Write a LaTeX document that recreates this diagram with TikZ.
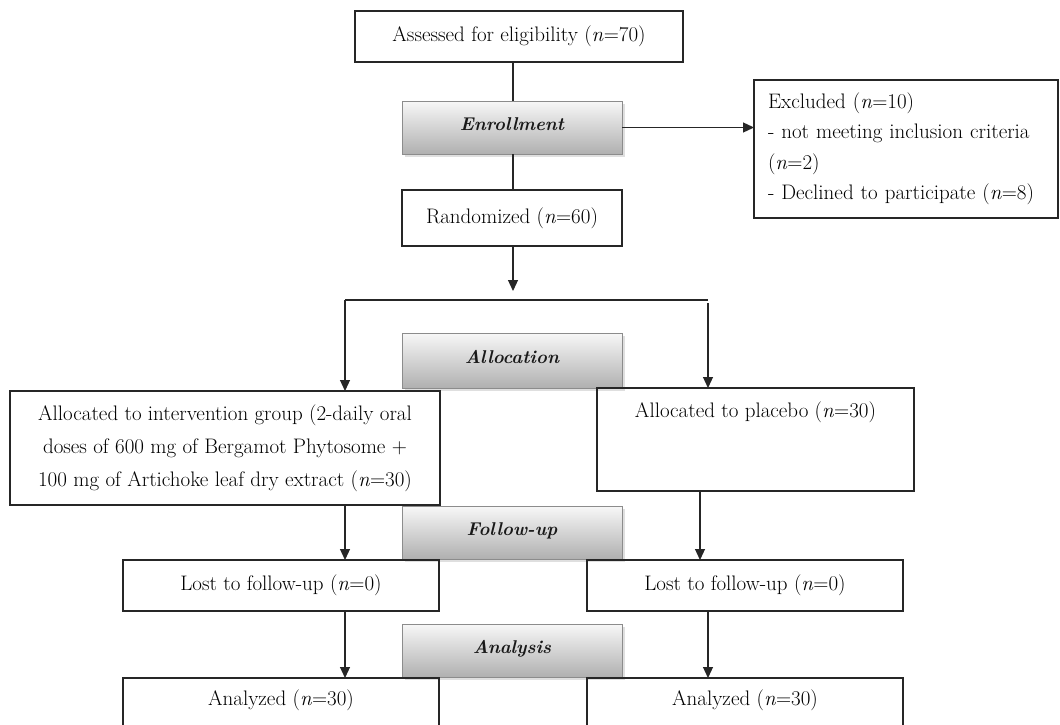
\documentclass[tikz,border=0pt]{standalone}
\usetikzlibrary{arrows.meta,shadows}
\begin{document}
\begin{tikzpicture}[x=1pt,y=-1pt,
  txt/.style={font=\fontsize{21}{30.5}\selectfont,text=black,inner sep=0pt,outer sep=0pt},
  box/.style={txt,draw=black!85,line width=1.1pt,rectangle,align=center},
  phase/.style={draw=gray!90,line width=1pt,rectangle,inner sep=0pt,outer sep=0pt,
    top color=gray!6,bottom color=gray!62,minimum width=220pt,text depth=7pt,
    font=\fontsize{18.5}{20}\selectfont\bfseries\itshape,text=black!90,
    drop shadow={shadow xshift=3pt,shadow yshift=-3pt,opacity=0.25,fill=gray}},
  con/.style={draw=black!85,line width=1.2pt},
  arr/.style={con,-{Triangle[width=10pt,length=11pt]}}]
\clip (0,0) rectangle (1060,725);
\fill[white] (0,0) rectangle (1060,725);

% boxes
\node[box,minimum width=328pt,minimum height=51pt] (assess) at (519,36.5) {Assessed for eligibility (\textit{n}=70)};
\node[phase,minimum height=53pt] (enroll) at (512,127.5) {Enrollment};
\node[box,minimum width=304pt,minimum height=138pt,text width=276pt,align=left,inner xsep=14pt] (excl) at (906,149)
  {Excluded (\textit{n}=10)\\- not meeting inclusion criteria\\(\textit{n}=2)\\- Declined to participate (\textit{n}=8)};
\node[box,minimum width=220pt,minimum height=56pt] (rand) at (512,218) {Randomized (\textit{n}=60)};
\node[phase,minimum height=55pt] (alloc) at (512,360.5) {Allocation};
\node[box,minimum width=430pt,minimum height=114pt,font=\fontsize{21}{33}\selectfont] (interv) at (225,448)
  {Allocated to intervention group (2-daily oral\\doses of 600 mg of Bergamot Phytosome +\\100 mg of Artichoke leaf dry extract (\textit{n}=30)};
\node[box,minimum width=317pt,minimum height=103pt] (placebo) at (755.5,439.5) {};
\node[txt,anchor=center] (placebot) at (755.5,412) {Allocated to placebo (\textit{n}=30)};
\node[phase,minimum height=53pt] (follow) at (512,532.5) {Follow-up};
\node[box,minimum width=316pt,minimum height=51pt] (lostL) at (281,585.5) {Lost to follow-up (\textit{n}=0)};
\node[box,minimum width=316pt,minimum height=51pt] (lostR) at (745,585.5) {Lost to follow-up (\textit{n}=0)};
\node[phase,minimum height=53pt] (analysis) at (512,650.5) {Analysis};
\node[box,minimum width=316pt,minimum height=90pt] (anL) at (281,723) {};
\node[txt] (anLt) at (281,700) {Analyzed (\textit{n}=30)};
\node[box,minimum width=316pt,minimum height=90pt] (anR) at (745,723) {};
\node[txt] (anRt) at (745,700) {Analyzed (\textit{n}=30)};

% split coordinates
\coordinate (rend) at (513,291);
\coordinate (sL) at (345,300);
\coordinate (sR) at (708,300);
\coordinate (sRtop) at (708,303);

% connectors
\draw[con] (enroll.north -| 513,0) -- (assess.south -| 513,0);
\draw[con] (enroll.south -| 513,0) -- (rand.north -| 513,0);
\draw[arr] (enroll.east) -- (enroll.east -| excl.west);
\draw[arr] (rand.south -| rend) -- (rend);
\draw[con] (sL) -- (sR);
\draw[arr] (sL) -- (sL |- interv.north);
\draw[arr] (sRtop) -- (sRtop |- placebo.north);
\draw[arr] (interv.south -| sL) -- (lostL.north -| sL);
\draw[arr] (placebo.south -| 700,0) -- (lostR.north -| 700,0);
\draw[arr] (lostL.south -| sL) -- (anL.north -| sL);
\draw[arr] (lostR.south -| sR) -- (anR.north -| sR);
\end{tikzpicture}
\end{document}
